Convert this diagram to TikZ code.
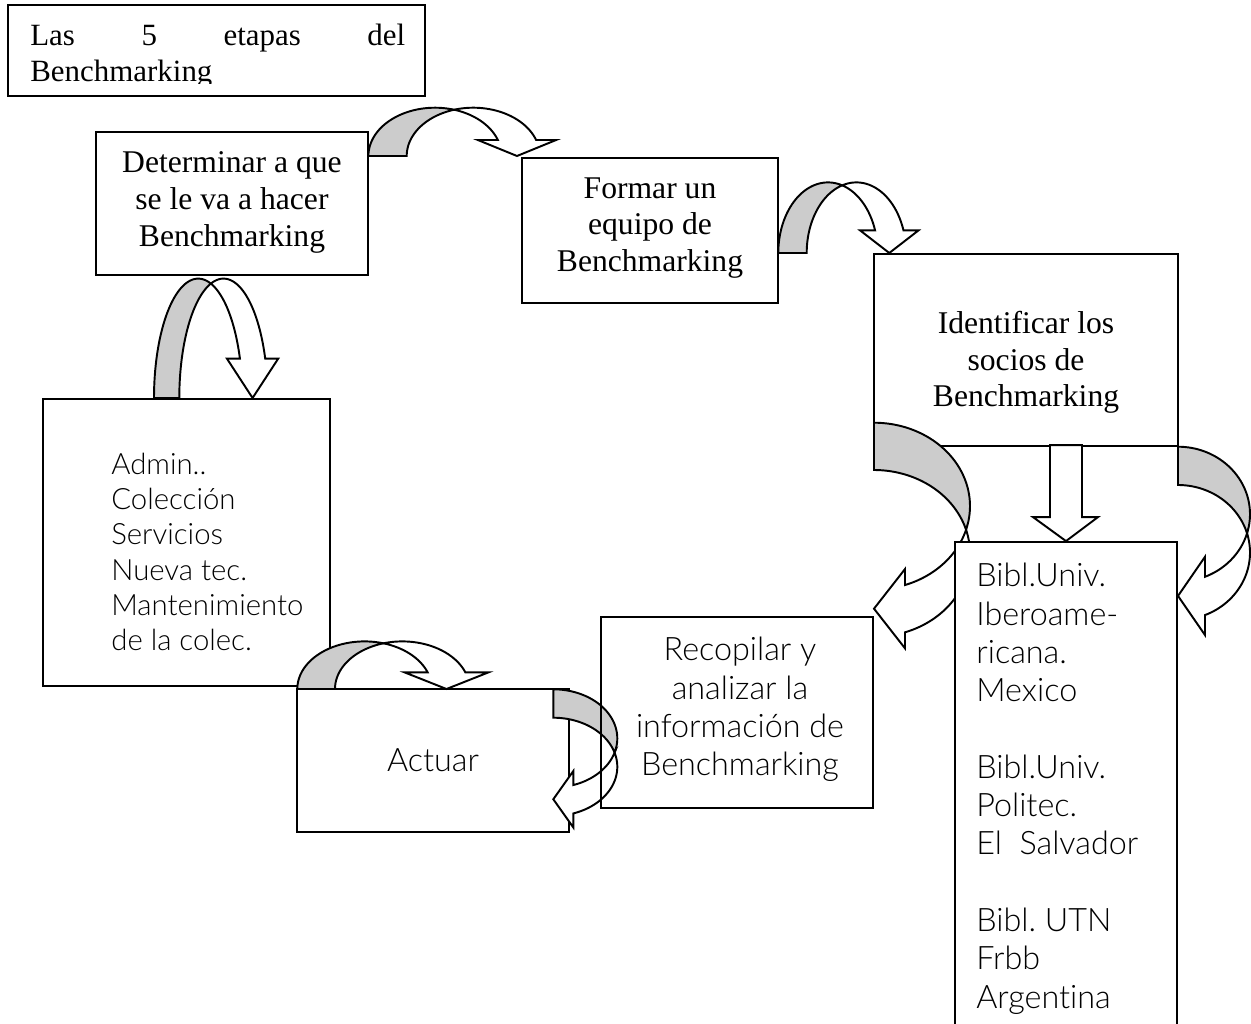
\documentclass[tikz,border=0pt]{standalone}
\usepackage{fontspec}
\setmainfont{Liberation Serif}
\IfFontExistsTF{Lato Light}{\newfontfamily\gothic{Lato Light}[Ligatures=NoCommon]}{\newfontfamily\gothic{Lato}[Ligatures=NoCommon]}
\definecolor{backface}{RGB}{204,204,204}
\frenchspacing

\tikzset{
  box/.style={draw, line width=1.1pt, fill=white, inner sep=0pt},
  frame/.style={draw, line width=1.1pt, inner sep=0pt},
  stage/.style={inner sep=0pt, align=center, font=\fontsize{18pt}{21pt}\selectfont},
  detail/.style={inner sep=0pt, align=left, font=\gothic\fontsize{16.7pt}{20pt}\selectfont},
  detailbig/.style={inner sep=0pt, font=\gothic\fontsize{18.4pt}{21.8pt}\selectfont},
  backleg/.style={draw, line width=1.1pt, fill=backface},
  frontleg/.style={draw, line width=1.1pt, fill=white},
}

% #1 rx, #2 ry, #3 band, #4 head length, #5 barb
\newcommand{\bentarrow}[5]{%
  \pgfmathsetmacro{\bentA}{acos(#3/(2*#1))}
  \pgfmathsetmacro{\bentB}{180-\bentA}
  \pgfmathsetmacro{\bentE}{asin(#4/#2)}
  \pgfmathsetmacro{\bentU}{#1*cos(\bentE)}
  \path[backleg] plot[domain=180:\bentA, samples=40] ({#1*cos(\x)}, {-#2*sin(\x)})
    -- plot[domain=\bentB:180, samples=40] ({#3+#1*cos(\x)}, {-#2*sin(\x)}) -- cycle;
  \path[frontleg] plot[domain=\bentB:\bentE, samples=40] ({#3+#1*cos(\x)}, {-#2*sin(\x)})
    -- ({#3+\bentU+#5}, {-#4}) -- ({\bentU+#3/2}, 0) -- ({\bentU-#5}, {-#4})
    -- plot[domain=\bentE:\bentA, samples=40] ({#1*cos(\x)}, {-#2*sin(\x)}) -- cycle;
}

\begin{document}
\begin{tikzpicture}[x=0.02cm, y=-0.02cm]
\useasboundingbox (0,0) rectangle (1251,1024);
\clip (0,0) rectangle (1251,1024);

\node[box, minimum width=8.34cm, minimum height=1.82cm] (title) at (216.5,50.5) {};
\begin{scope}
\clip (8,5) rectangle (425,84);
\node[anchor=north west, inner sep=0pt, text width=7.5cm, align=left,
  font=\fontsize{17.6pt}{20.5pt}\selectfont] (title-t) at (30,24) {Las\hfill 5\hfill etapas\hfill del\\Benchmarking};
\end{scope}

\node[box, minimum width=5.44cm, minimum height=2.86cm] (det) at (232,203.5) {};
\node[stage, anchor=north] (det-t) at (232,151.5) {Determinar a que\\se le va a hacer\\Benchmarking};

\node[box, minimum width=5.12cm, minimum height=2.9cm] (formar) at (650,230.5) {};
\node[stage, anchor=north] (formar-t) at (650,177) {Formar un\\equipo de\\Benchmarking};

\begin{scope}[shift={(435,156)}] \bentarrow{66.6}{48.3}{38.3}{16}{20} \end{scope}
\begin{scope}[shift={(828,253)}] \bentarrow{49.7}{70.6}{28.4}{22.6}{15} \end{scope}
\begin{scope}[shift={(198.2,398)}] \bentarrow{44.2}{119.4}{25.3}{39.4}{13} \end{scope}

\node[box, minimum width=6.08cm, minimum height=3.84cm] (ident) at (1026,350) {};
\node[stage, anchor=north] (ident-t) at (1026,310.5) {Identificar los\\socios de\\Benchmarking};

\node[box, minimum width=5.74cm, minimum height=5.74cm] (admin) at (186.5,542.5) {};
\node[detail, anchor=north west] (admin-t) at (111,453) {Admin..\\Colección\\Servicios\\Nueva tec.\\Mantenimiento\\de la colec.};

\node[box, minimum width=5.44cm, minimum height=2.86cm] (actuar) at (433,760.5) {};
\node[detailbig] (actuar-t) at (433,760) {Actuar};

\begin{scope}[shift={(364.6,689)}] \bentarrow{67.3}{47.6}{37.7}{16.6}{23} \end{scope}
\begin{scope}[shift={(553.3,738.4)}, rotate=-90] \bentarrow{49.1}{64}{28.4}{20}{14} \end{scope}
\begin{scope}[shift={(874,506.1)}, rotate=-90] \bentarrow{83.4}{96}{47.3}{31}{16} \end{scope}
\begin{scope}[shift={(1178,514.2)}, rotate=-90] \bentarrow{67.5}{72}{38.3}{27}{20} \end{scope}

\node[frame, minimum width=5.44cm, minimum height=3.82cm] (recop) at (737,712.5) {};
\node[detailbig, align=center, anchor=north] (recop-t) at (740,637) {Recopilar y\\analizar la\\información de\\Benchmarking};

\node[box, minimum width=4.44cm, minimum height=9.96cm] (bibl) at (1066,791) {};
\node[detailbig, align=left, anchor=north west] (bibl-t) at (976,563) {Bibl.Univ.\\Iberoame-\\ricana.\\Mexico\\[21.8pt]Bibl.Univ.\\Politec.\\El\ \ Salvador\\[21.8pt]Bibl. UTN\\Frbb\\Argentina};

\path[frontleg] (bibl.north) -- ++(-33,-24) -- ++(17,0) -- ++(0,-72) -- ++(32,0) -- ++(0,72) -- ++(16,0) -- cycle;
\end{tikzpicture}
\end{document}
